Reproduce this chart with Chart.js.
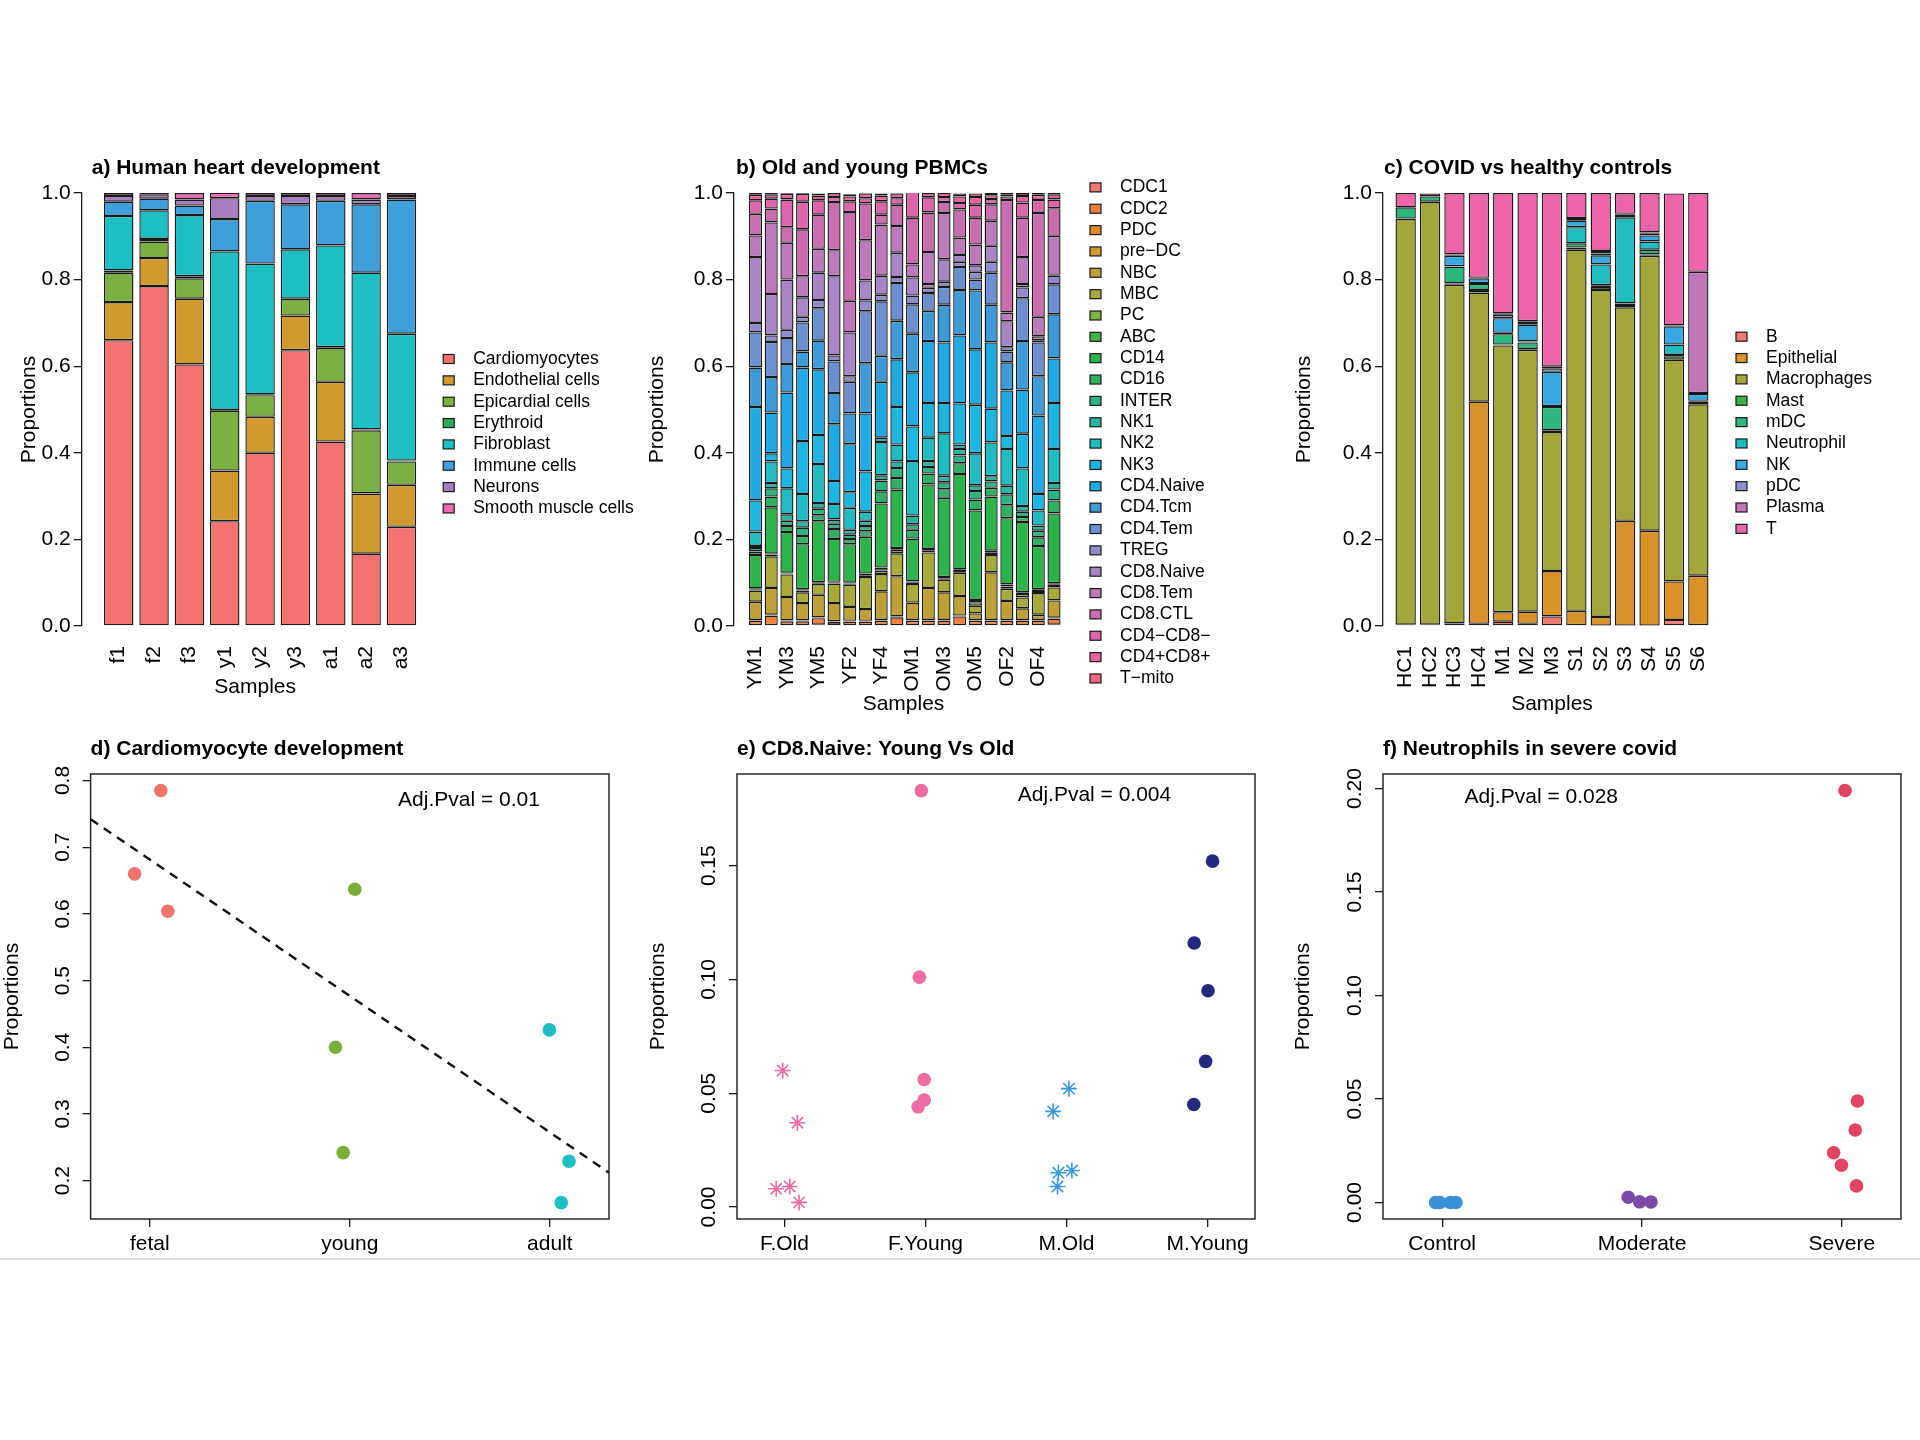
<!DOCTYPE html>
<html>
<head>
<meta charset="utf-8">
<script src="https://cdn.jsdelivr.net/npm/chart.js@4.4.1/dist/chart.umd.min.js"></script>
<style>
  body { margin: 0; background: #fff; width: 1920px; height: 1440px; position: relative; overflow: hidden; }
  canvas { position: absolute; }
  #rule { position: absolute; left: 0; top: 1258px; width: 1920px; height: 2px; background: #dcd9ea; }
</style>
</head>
<body>
<canvas id="panelA" width="700" height="600" style="left:0px;top:140px"></canvas>
<canvas id="panelB" width="720" height="600" style="left:620px;top:140px"></canvas>
<canvas id="panelC" width="650" height="600" style="left:1270px;top:140px"></canvas>
<canvas id="panelD" width="640" height="560" style="left:0px;top:720px"></canvas>
<canvas id="panelE" width="640" height="560" style="left:640px;top:720px"></canvas>
<canvas id="panelF" width="640" height="560" style="left:1280px;top:720px"></canvas>
<div id="rule"></div>
<script>
const FONT = '"Liberation Sans", Arial, Helvetica, sans-serif';
Chart.defaults.font.family = FONT;
Chart.defaults.font.size = 21;
Chart.defaults.color = '#000';
const ink = '#1a1a1a';

// ---- a) heart development ----
const heartSamples = ['f1', 'f2', 'f3', 'y1', 'y2', 'y3', 'a1', 'a2', 'a3'];
const heartTypes = ['Cardiomyocytes', 'Endothelial cells', 'Epicardial cells', 'Erythroid', 'Fibroblast', 'Immune cells', 'Neurons', 'Smooth muscle cells'];
const heartColors = ['#F37370', '#D09A2E', '#7DB043', '#2FA85A', '#1DBFC3', '#3E9FDB', '#A87DBF', '#E86AB0'];
const cardiomyocytes = [0.660, 0.785, 0.604, 0.242, 0.400, 0.637, 0.426, 0.167, 0.229];
const endothelial    = [0.088, 0.065, 0.152, 0.117, 0.083, 0.080, 0.138, 0.139, 0.097];
const epicardial     = [0.068, 0.038, 0.047, 0.138, 0.050, 0.038, 0.078, 0.146, 0.054];
const erythroid      = [0.005, 0.006, 0.005, 0.002, 0.002, 0.001, 0.002, 0.002, 0.002];
const fibroblast     = [0.126, 0.066, 0.141, 0.366, 0.302, 0.114, 0.235, 0.362, 0.293];
const immuneCells    = [0.033, 0.027, 0.022, 0.075, 0.145, 0.104, 0.103, 0.158, 0.310];
const neurons        = [0.013, 0.010, 0.014, 0.048, 0.011, 0.019, 0.011, 0.011, 0.008];
const smoothMuscle   = [0.007, 0.003, 0.015, 0.013, 0.007, 0.007, 0.007, 0.015, 0.007];

// ---- b) old and young PBMCs ----
const pbmcSamples = ['YM1', 'YM2', 'YM3', 'YM4', 'YM5', 'YF1', 'YF2', 'YF3', 'YF4', 'YF5',
                     'OM1', 'OM2', 'OM3', 'OM4', 'OM5', 'OF1', 'OF2', 'OF3', 'OF4', 'OF5'];
const pbmcTypes = ['CDC1', 'CDC2', 'PDC', 'pre\u2212DC', 'NBC', 'MBC', 'PC', 'ABC', 'CD14', 'CD16', 'INTER', 'NK1', 'NK2', 'NK3',
                   'CD4.Naive', 'CD4.Tcm', 'CD4.Tem', 'TREG', 'CD8.Naive', 'CD8.Tem', 'CD8.CTL', 'CD4\u2212CD8\u2212', 'CD4+CD8+', 'T\u2212mito'];
const pbmcColors = ['#F27670', '#EF7F3D', '#E2892F', '#D4982E', '#BCA236', '#A8AB3A', '#7FB343', '#43B24A', '#2DB34C', '#2FB062',
                    '#2BB382', '#27B69F', '#1FBCC2', '#1CB7E1', '#1FAAE4', '#3E9BDA', '#6B8FCF', '#8F8CC9', '#A886C3', '#BC7AB9',
                    '#C96DAD', '#DD66A9', '#EC62A0', '#EF6584'];
const cdc1     = [0.002, 0.002, 0.002, 0.002, 0.003, 0.002, 0.002, 0.002, 0.002, 0.002, 0.002, 0.002, 0.002, 0.002, 0.002, 0.002, 0.002, 0.002, 0.002, 0.003];
const cdc2     = [0.010, 0.022, 0.009, 0.009, 0.015, 0.007, 0.008, 0.008, 0.010, 0.018, 0.010, 0.010, 0.010, 0.020, 0.010, 0.010, 0.010, 0.010, 0.010, 0.014];
const pdc      = [0.001, 0.001, 0.001, 0.001, 0.001, 0.001, 0.001, 0.001, 0.001, 0.001, 0.001, 0.001, 0.001, 0.001, 0.001, 0.001, 0.001, 0.001, 0.001, 0.001];
const preDc    = [0.001, 0.001, 0.001, 0.001, 0.001, 0.001, 0.001, 0.001, 0.001, 0.001, 0.001, 0.001, 0.001, 0.001, 0.001, 0.001, 0.001, 0.001, 0.001, 0.001];
const nbc      = [0.042, 0.062, 0.054, 0.040, 0.052, 0.042, 0.032, 0.027, 0.066, 0.093, 0.040, 0.074, 0.064, 0.045, 0.015, 0.110, 0.044, 0.027, 0.012, 0.040];
const mbc      = [0.026, 0.073, 0.052, 0.025, 0.025, 0.045, 0.051, 0.074, 0.040, 0.053, 0.043, 0.082, 0.029, 0.054, 0.018, 0.040, 0.028, 0.025, 0.050, 0.030];
const pc       = [0.003, 0.004, 0.002, 0.004, 0.002, 0.002, 0.003, 0.004, 0.008, 0.008, 0.004, 0.005, 0.003, 0.004, 0.008, 0.005, 0.005, 0.008, 0.005, 0.006];
const abc      = [0.002, 0.002, 0.002, 0.003, 0.002, 0.002, 0.002, 0.004, 0.007, 0.004, 0.002, 0.003, 0.003, 0.004, 0.005, 0.005, 0.005, 0.004, 0.004, 0.004];
const cd14     = [0.077, 0.107, 0.094, 0.104, 0.141, 0.099, 0.089, 0.085, 0.148, 0.135, 0.099, 0.149, 0.183, 0.220, 0.207, 0.125, 0.153, 0.162, 0.100, 0.161];
const cd16     = [0.008, 0.025, 0.014, 0.019, 0.014, 0.023, 0.012, 0.013, 0.028, 0.027, 0.020, 0.025, 0.020, 0.025, 0.025, 0.020, 0.030, 0.012, 0.020, 0.030];
const inter    = [0.008, 0.019, 0.012, 0.019, 0.015, 0.012, 0.010, 0.012, 0.025, 0.023, 0.013, 0.015, 0.016, 0.018, 0.020, 0.015, 0.025, 0.012, 0.015, 0.025];
const nk1      = [0.005, 0.012, 0.015, 0.015, 0.013, 0.010, 0.011, 0.012, 0.012, 0.015, 0.020, 0.014, 0.015, 0.015, 0.013, 0.012, 0.020, 0.013, 0.012, 0.015];
const nk2      = [0.033, 0.050, 0.060, 0.063, 0.090, 0.036, 0.051, 0.021, 0.077, 0.039, 0.126, 0.054, 0.098, 0.010, 0.074, 0.078, 0.085, 0.087, 0.035, 0.079];
const nk3      = [0.072, 0.019, 0.046, 0.122, 0.067, 0.053, 0.036, 0.093, 0.010, 0.087, 0.080, 0.080, 0.070, 0.095, 0.112, 0.078, 0.030, 0.080, 0.038, 0.106];
const cd4Naive = [0.216, 0.094, 0.175, 0.170, 0.152, 0.131, 0.111, 0.134, 0.129, 0.110, 0.125, 0.143, 0.140, 0.157, 0.128, 0.153, 0.105, 0.102, 0.181, 0.103];
const cd4Tcm   = [0.091, 0.082, 0.066, 0.037, 0.066, 0.072, 0.071, 0.116, 0.060, 0.089, 0.089, 0.070, 0.087, 0.105, 0.136, 0.087, 0.065, 0.112, 0.091, 0.102];
const cd4Tem   = [0.081, 0.081, 0.060, 0.067, 0.075, 0.073, 0.073, 0.120, 0.126, 0.087, 0.068, 0.041, 0.041, 0.053, 0.025, 0.074, 0.025, 0.099, 0.078, 0.069];
const treg     = [0.022, 0.015, 0.019, 0.013, 0.019, 0.014, 0.013, 0.025, 0.015, 0.014, 0.020, 0.012, 0.012, 0.012, 0.018, 0.025, 0.010, 0.025, 0.005, 0.020];
const cd8Naive = [0.152, 0.096, 0.116, 0.045, 0.063, 0.183, 0.101, 0.046, 0.044, 0.056, 0.042, 0.009, 0.052, 0.016, 0.015, 0.037, 0.060, 0.008, 0.009, 0.002];
const cd8Tem   = [0.050, 0.165, 0.085, 0.049, 0.055, 0.060, 0.073, 0.093, 0.118, 0.062, 0.030, 0.074, 0.107, 0.040, 0.048, 0.058, 0.020, 0.062, 0.045, 0.090];
const cd8Ctl   = [0.050, 0.032, 0.036, 0.108, 0.079, 0.111, 0.205, 0.085, 0.023, 0.049, 0.108, 0.091, 0.025, 0.065, 0.062, 0.038, 0.260, 0.091, 0.240, 0.064];
const dnT      = [0.031, 0.023, 0.064, 0.064, 0.033, 0.012, 0.025, 0.012, 0.031, 0.015, 0.060, 0.035, 0.012, 0.015, 0.030, 0.012, 0.008, 0.035, 0.030, 0.020];
const dpT      = [0.013, 0.010, 0.013, 0.018, 0.011, 0.009, 0.011, 0.011, 0.013, 0.011, 0.015, 0.010, 0.010, 0.015, 0.018, 0.009, 0.004, 0.015, 0.012, 0.012];
const tMito    = [0.005, 0.003, 0.005, 0.005, 0.005, 0.005, 0.005, 0.005, 0.005, 0.005, 0.006, 0.005, 0.004, 0.007, 0.008, 0.005, 0.004, 0.007, 0.005, 0.008];

// ---- c) COVID vs healthy controls ----
const covidSamples = ['HC1', 'HC2', 'HC3', 'HC4', 'M1', 'M2', 'M3', 'S1', 'S2', 'S3', 'S4', 'S5', 'S6'];
const covidTypes = ['B', 'Epithelial', 'Macrophages', 'Mast', 'mDC', 'Neutrophil', 'NK', 'pDC', 'Plasma', 'T'];
const covidColors = ['#F37A6E', '#D9912A', '#A3A63A', '#3DB44B', '#2DB67E', '#1FBDC0', '#37A8E0', '#8E8FCF', '#BE76B5', '#EE64A8'];
const bCells      = [0.002, 0.002, 0.002, 0.005, 0.010, 0.005, 0.022, 0.002, 0.001, 0.001, 0.001, 0.014, 0.002];
const epithelial  = [0.001, 0.001, 0.004, 0.513, 0.022, 0.028, 0.105, 0.033, 0.020, 0.242, 0.219, 0.089, 0.114];
const macrophages = [0.937, 0.976, 0.782, 0.252, 0.616, 0.605, 0.321, 0.834, 0.755, 0.493, 0.635, 0.512, 0.396];
const mast        = [0.001, 0.001, 0.003, 0.006, 0.002, 0.002, 0.004, 0.005, 0.007, 0.003, 0.003, 0.008, 0.003];
const mdc         = [0.026, 0.012, 0.039, 0.014, 0.024, 0.015, 0.054, 0.010, 0.004, 0.006, 0.011, 0.003, 0.003];
const neutrophil  = [0.000, 0.000, 0.001, 0.002, 0.003, 0.002, 0.002, 0.037, 0.048, 0.199, 0.019, 0.024, 0.002];
const nkCells     = [0.000, 0.000, 0.024, 0.011, 0.034, 0.039, 0.079, 0.015, 0.021, 0.005, 0.014, 0.042, 0.016];
const pdcCovid    = [0.000, 0.000, 0.002, 0.000, 0.008, 0.006, 0.008, 0.004, 0.004, 0.001, 0.004, 0.001, 0.002];
const plasma      = [0.000, 0.000, 0.001, 0.001, 0.003, 0.002, 0.004, 0.002, 0.006, 0.002, 0.003, 0.001, 0.280];
const tCells      = [0.033, 0.007, 0.142, 0.196, 0.278, 0.296, 0.401, 0.058, 0.134, 0.048, 0.091, 0.305, 0.182];

const propTicks = [0, 0.2, 0.4, 0.6, 0.8, 1.0];

// ---- d) cardiomyocyte development ----
const devGroups = ['fetal', 'young', 'adult'];
const fetalCm = [0.660, 0.785, 0.604];
const fetalJitter = [-0.076, 0.055, 0.090];
const youngCm = [0.242, 0.400, 0.637];
const youngJitter = [-0.033, -0.072, 0.025];
const adultCm = [0.426, 0.167, 0.229];
const adultJitter = [-0.002, 0.057, 0.096];
const trendX = [0.704, 3.296];
const trendY = [0.742, 0.212];
const devTicks = [0.2, 0.3, 0.4, 0.5, 0.6, 0.7, 0.8];

// ---- e) CD8.Naive young vs old ----
const cd8Groups = ['F.Old', 'F.Young', 'M.Old', 'M.Young'];
const fOld = [0.060, 0.037, 0.008, 0.009, 0.002];
const fOldJitter = [-0.012, 0.092, -0.058, 0.038, 0.104];
const fYoung = [0.183, 0.101, 0.056, 0.047, 0.044];
const fYoungJitter = [-0.029, -0.043, -0.009, -0.009, -0.052];
const mOld = [0.042, 0.052, 0.015, 0.016, 0.009];
const mOldJitter = [-0.095, 0.017, -0.058, 0.038, -0.064];
const mYoung = [0.152, 0.116, 0.095, 0.064, 0.045];
const mYoungJitter = [0.035, -0.095, 0.003, -0.014, -0.098];
const cd8Ticks = [0, 0.05, 0.10, 0.15];

// ---- f) neutrophils in severe covid ----
const sevGroups = ['Control', 'Moderate', 'Severe'];
const controlNeu = [0, 0, 0, 0];
const controlJitter = [-0.033, -0.012, 0.041, 0.069];
const moderateNeu = [0.0025, 0.0003, 0.0002];
const moderateJitter = [-0.069, -0.012, 0.045];
const severeNeu = [0.199, 0.049, 0.035, 0.024, 0.018, 0.008];
const severeJitter = [0.016, 0.078, 0.067, -0.041, -0.002, 0.073];
const neuTicks = [0, 0.05, 0.10, 0.15, 0.20];

// draws R-style titles, frames, notes and legends
const rPanel = {
  id: 'rPanel',
  afterDraw(chart, args, opts) {
    const { ctx, chartArea: ca, scales } = chart;
    ctx.save();
    if (opts.frame) {
      ctx.strokeStyle = ink;
      ctx.lineWidth = 1.4;
      ctx.strokeRect(ca.left, ca.top, ca.right - ca.left, ca.bottom - ca.top);
    }
    ctx.fillStyle = '#000';
    ctx.textBaseline = 'middle';
    if (opts.title) {
      ctx.font = 'bold 21px ' + FONT;
      ctx.textAlign = 'left';
      ctx.fillText(opts.title, ca.left + (opts.titleDx || 0), ca.top - 25);
    }
    if (opts.note) {
      ctx.font = '21px ' + FONT;
      ctx.textAlign = 'center';
      ctx.fillText(opts.note.text, scales.x.getPixelForValue(opts.note.x), scales.y.getPixelForValue(opts.note.y));
    }
    if (opts.legend) {
      const L = opts.legend;
      const x0 = ca.right + L.dx;
      ctx.font = '17.5px ' + FONT;
      ctx.textAlign = 'left';
      chart.data.datasets.forEach((ds, i) => {
        const y = L.top + i * L.step;
        ctx.fillStyle = ds.backgroundColor;
        ctx.fillRect(x0, y - 4.5, 11, 9);
        ctx.strokeStyle = ink;
        ctx.lineWidth = 1.2;
        ctx.strokeRect(x0, y - 4.5, 11, 9);
        ctx.fillStyle = '#000';
        ctx.fillText(ds.label, x0 + 30, y);
      });
    }
    ctx.restore();
  }
};
Chart.register(rPanel);

function stackedSets(names, colors, series) {
  return series.map((vals, k) => ({
    label: names[k],
    backgroundColor: colors[k],
    borderColor: ink,
    borderWidth: 1.4,
    borderSkipped: false,
    barPercentage: 1 / 1.2,
    categoryPercentage: 1,
    data: vals.map((v, i) => ({ x: 0.7 + 1.2 * i, y: v }))
  }));
}

function barOptions(c) {
  const n = c.samples.length;
  const span = 1.2 * n - 0.2;
  return {
    responsive: false, animation: false, devicePixelRatio: 1,
    layout: { padding: c.pad },
    plugins: {
      legend: { display: false }, tooltip: { enabled: false },
      rPanel: { title: c.title, titleDx: c.titleDx, legend: c.legend }
    },
    scales: {
      x: {
        type: 'linear', stacked: true, offset: false,
        min: 0.2 - 0.04 * span - (c.leftExtra || 0), max: 1.2 * n + 0.04 * span,
        afterBuildTicks: s => { s.ticks = c.samples.map((_, i) => ({ value: 0.7 + 1.2 * i })); },
        afterFit: s => { s.height = c.xh; },
        grid: { display: false }, border: { display: false },
        ticks: {
          autoSkip: false, minRotation: 90, maxRotation: 90, padding: 12,
          callback: (v, i) => (i % c.every === 0 ? c.samples[i] : '')
        },
        title: { display: true, text: 'Samples', padding: { top: 0, bottom: c.xTitlePad } }
      },
      y: {
        stacked: true, min: 0, max: 1,
        afterBuildTicks: s => { s.ticks = propTicks.map(v => ({ value: v })); },
        afterFit: s => { s.width = c.yw; },
        grid: { drawOnChartArea: false, tickLength: 8, color: ink, lineWidth: 1.3 },
        border: { display: true, color: ink, width: 1.3 },
        ticks: { padding: 3, callback: v => v.toFixed(1) },
        title: { display: true, text: 'Proportions', padding: { top: c.yTitlePad, bottom: 0 } }
      }
    }
  };
}

function dots(group, ys, jitter, color, style, radius) {
  return {
    data: ys.map((v, i) => ({ x: group + jitter[i], y: v })),
    pointStyle: style, pointRadius: radius, pointHoverRadius: radius,
    backgroundColor: color, borderColor: color,
    borderWidth: style === 'star' ? 1.6 : 0
  };
}

function dotOptions(c) {
  const n = c.groups.length;
  const span = n - 0.6;
  return {
    responsive: false, animation: false, devicePixelRatio: 1,
    layout: { padding: c.pad },
    plugins: {
      legend: { display: false }, tooltip: { enabled: false },
      rPanel: { title: c.title, note: c.note, frame: true }
    },
    scales: {
      x: {
        type: 'linear', min: 0.8 - 0.04 * span, max: n + 0.2 + 0.04 * span,
        afterBuildTicks: s => { s.ticks = c.groups.map((_, i) => ({ value: i + 1 })); },
        afterFit: s => { s.height = 50; },
        grid: { drawOnChartArea: false, tickLength: 8, color: ink, lineWidth: 1.3 },
        border: { display: false },
        ticks: { autoSkip: false, maxRotation: 0, padding: 4.4, callback: (v, i) => c.groups[i] }
      },
      y: {
        min: c.yRange[0], max: c.yRange[1],
        afterBuildTicks: s => { s.ticks = c.yTicks.map(v => ({ value: v })); },
        afterFit: s => { s.width = c.yw; },
        grid: { drawOnChartArea: false, tickLength: 8, color: ink, lineWidth: 1.3 },
        border: { display: false },
        ticks: { minRotation: 90, maxRotation: 90, crossAlign: 'center', padding: c.yTickPad,
          callback: v => v.toFixed(c.digits) },
        title: { display: true, text: 'Proportions', padding: { top: c.yTitlePad, bottom: 0 } }
      }
    }
  };
}

new Chart(document.getElementById('panelA'), {
  type: 'bar',
  data: { datasets: stackedSets(heartTypes, heartColors,
    [cardiomyocytes, endothelial, epicardial, erythroid, fibroblast, immuneCells, neurons, smoothMuscle]) },
  options: barOptions({
    samples: heartSamples, every: 1, title: 'a) Human heart development', titleDx: 10,
    pad: { left: 0, top: 53, right: 271.3, bottom: 34 }, xh: 80, yw: 81.7, leftExtra: 0.332,
    xTitlePad: 6.4, yTitlePad: 16.4,
    legend: { dx: 14.5, top: 219, step: 21.35 }
  })
});

new Chart(document.getElementById('panelB'), {
  type: 'bar',
  data: { datasets: stackedSets(pbmcTypes, pbmcColors,
    [cdc1, cdc2, pdc, preDc, nbc, mbc, pc, abc, cd14, cd16, inter, nk1, nk2, nk3,
     cd4Naive, cd4Tcm, cd4Tem, treg, cd8Naive, cd8Tem, cd8Ctl, dnT, dpT, tMito]) },
  options: barOptions({
    samples: pbmcSamples, every: 2, title: 'b) Old and young PBMCs', titleDx: 2,
    pad: { left: 0, top: 53, right: 267, bottom: 14 }, xh: 100, yw: 114, leftExtra: 0.19,
    xTitlePad: 9.4, yTitlePad: 25,
    legend: { dx: 17, top: 47.4, step: 21.35 }
  })
});

new Chart(document.getElementById('panelC'), {
  type: 'bar',
  data: { datasets: stackedSets(covidTypes, covidColors,
    [bCells, epithelial, macrophages, mast, mdc, neutrophil, nkCells, pdcCovid, plasma, tCells]) },
  options: barOptions({
    samples: covidSamples, every: 1, title: 'c) COVID vs healthy controls', titleDx: 1,
    pad: { left: 0, top: 53, right: 199, bottom: 14 }, xh: 100, yw: 113,
    xTitlePad: 9.4, yTitlePad: 21.4,
    legend: { dx: 15, top: 196.7, step: 21.35 }
  })
});

new Chart(document.getElementById('panelD'), {
  type: 'scatter',
  data: { datasets: [
    dots(1, fetalCm, fetalJitter, '#F0746E', 'circle', 6.8),
    dots(2, youngCm, youngJitter, '#7CAE3C', 'circle', 6.8),
    dots(3, adultCm, adultJitter, '#1FBEC3', 'circle', 6.8),
    { data: trendX.map((x, i) => ({ x, y: trendY[i] })), showLine: true, pointRadius: 0,
      borderColor: '#111', borderWidth: 2.4, borderDash: [9, 7] }
  ] },
  options: dotOptions({
    groups: devGroups, title: 'd) Cardiomyocyte development',
    note: { text: 'Adj.Pval = 0.01', x: 2.596, y: 0.771 },
    yRange: [0.1425, 0.8097], yTicks: devTicks, digits: 1,
    pad: { left: 0, top: 54, right: 31, bottom: 11 }, yw: 90.6, yTickPad: 4.7, yTitlePad: 0
  })
});

new Chart(document.getElementById('panelE'), {
  type: 'scatter',
  data: { datasets: [
    dots(1, fOld, fOldJitter, '#EC6CA4', 'star', 8),
    dots(2, fYoung, fYoungJitter, '#EC6CA4', 'circle', 6.8),
    dots(3, mOld, mOldJitter, '#3A9AD9', 'star', 8),
    dots(4, mYoung, mYoungJitter, '#25297E', 'circle', 6.8)
  ] },
  options: dotOptions({
    groups: cd8Groups, title: 'e) CD8.Naive: Young Vs Old',
    note: { text: 'Adj.Pval = 0.004', x: 3.198, y: 0.1808 },
    yRange: [-0.0053, 0.1903], yTicks: cd8Ticks, digits: 2,
    pad: { left: 0, top: 54, right: 25, bottom: 11 }, yw: 97, yTickPad: -0.8, yTitlePad: 5.4
  })
});

new Chart(document.getElementById('panelF'), {
  type: 'scatter',
  data: { datasets: [
    dots(1, controlNeu, controlJitter, '#3A90D6', 'circle', 6.8),
    dots(2, moderateNeu, moderateJitter, '#7B4AA6', 'circle', 6.8),
    dots(3, severeNeu, severeJitter, '#E04463', 'circle', 6.8)
  ] },
  options: dotOptions({
    groups: sevGroups, title: 'f) Neutrophils in severe covid',
    note: { text: 'Adj.Pval = 0.028', x: 1.496, y: 0.196 },
    yRange: [-0.008, 0.207], yTicks: neuTicks, digits: 2,
    pad: { left: 0, top: 54, right: 19, bottom: 11 }, yw: 103, yTickPad: -0.9, yTitlePad: 11.1
  })
});
</script>
</body>
</html>
